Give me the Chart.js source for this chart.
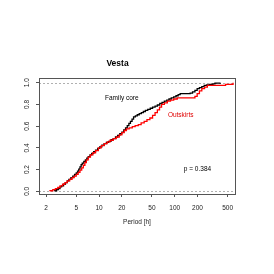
<!DOCTYPE html>
<html><head><meta charset="utf-8">
<script src="https://cdn.jsdelivr.net/npm/chart.js@4"></script>
<style>html,body{margin:0;padding:0;background:#fff}#wrap{width:274px;height:274px}</style>
</head><body><div id="wrap"><canvas id="c" width="274" height="274"></canvas></div>
<script>
// Family core (black) ECDF: period [h] and cumulative fraction
const coreP = [2.6,2.75,2.9,3.05,3.2,3.4,3.6,3.8,4.0,4.25,4.5,4.75,5.0,5.2,5.4,5.6,5.8,6.0,6.3,6.6,6.9,7.2,7.6,8.0,8.5,9.0,9.6,10.2,10.9,11.7,12.5,13.4,14.4,15.4,16.5,17.6,18.8,20.0,21.2,22.4,23.6,24.8,26.0,27.3,28.6,30.2,32.0,34.0,36.2,38.5,41.0,44.0,47.5,51.0,55.0,59.0,63.5,68.0,73.0,78.5,84.0,90.0,97,104,111,118,160,172,185,198,212,228,245,265,290,320,340,400];
const coreF = [0.005,0.015,0.025,0.04,0.05,0.065,0.08,0.095,0.11,0.125,0.14,0.155,0.17,0.185,0.205,0.225,0.245,0.26,0.275,0.29,0.305,0.32,0.335,0.35,0.365,0.38,0.395,0.41,0.425,0.44,0.45,0.46,0.475,0.485,0.5,0.515,0.53,0.545,0.565,0.585,0.605,0.625,0.645,0.665,0.685,0.695,0.705,0.715,0.725,0.735,0.745,0.755,0.765,0.775,0.785,0.795,0.81,0.82,0.83,0.84,0.85,0.86,0.87,0.88,0.89,0.9,0.905,0.915,0.93,0.945,0.955,0.965,0.975,0.98,0.985,0.99,0.997,1.0];
// Outskirts (red) ECDF
const outP = [2.25,2.45,2.65,2.85,3.05,3.3,3.55,3.8,4.1,4.4,4.7,5.0,5.3,5.6,5.9,6.2,6.5,6.8,7.2,7.7,8.3,9.0,9.8,10.7,11.7,12.8,14.0,15.4,16.9,18.5,20.0,21.5,23.0,25.0,27.5,30.0,33.0,36.0,39.5,43.0,47.0,51.0,55.0,59.0,63.0,67.0,73.0,80.0,88.0,97.0,108,185,198,212,228,248,270,470,590];
const outF = [0.005,0.015,0.025,0.035,0.05,0.065,0.08,0.095,0.11,0.125,0.14,0.155,0.175,0.195,0.215,0.24,0.265,0.29,0.315,0.335,0.355,0.375,0.4,0.42,0.44,0.455,0.47,0.485,0.5,0.52,0.54,0.56,0.575,0.585,0.595,0.605,0.615,0.63,0.645,0.66,0.675,0.7,0.725,0.75,0.775,0.8,0.815,0.83,0.84,0.85,0.86,0.875,0.9,0.925,0.945,0.96,0.975,0.985,1.0];

const xTicks = [2,5,10,20,50,100,200,500];
const yTicks = [0,0.2,0.4,0.6,0.8,1.0];
const refLines = [0,1];
const noteText = ['Family core','Outskirts','p = 0.384'];
const noteX = [20,120,200];
const noteY = [0.86,0.70,0.20];
const noteColor = ['#000000','#e00000','#000000'];

const FONT = '"Liberation Sans", Arial, Helvetica, sans-serif';

function series(p, f) {
  const pts = [{x: p[0], y: 0}];
  for (let i = 0; i < p.length; i++) pts.push({x: p[i], y: f[i]});
  return pts;
}

const extras = {
  id: 'extras',
  beforeDatasetsDraw(chart) {
    const {ctx, chartArea: a, scales: {y}} = chart;
    ctx.save();
    ctx.strokeStyle = '#b0b0b0';
    ctx.lineWidth = 1;
    ctx.setLineDash([2, 2]);
    refLines.forEach(v => {
      const py = Math.round(y.getPixelForValue(v)) + 0.5;
      ctx.beginPath(); ctx.moveTo(a.left, py); ctx.lineTo(a.right, py); ctx.stroke();
    });
    ctx.restore();
  },
  afterDatasetsDraw(chart) {
    const {ctx, chartArea: a, scales: {x, y}} = chart;
    ctx.save();
    ctx.font = '6.5px ' + FONT;
    ctx.textAlign = 'center';
    ctx.textBaseline = 'middle';
    noteText.forEach((t, i) => {
      ctx.fillStyle = noteColor[i];
      ctx.fillText(t, x.getPixelForValue(noteX[i]), y.getPixelForValue(noteY[i]));
    });
    ctx.strokeStyle = '#555';
    ctx.lineWidth = 1;
    ctx.strokeRect(Math.round(a.left) + 0.5, Math.round(a.top) + 0.5, Math.round(a.right - a.left), Math.round(a.bottom - a.top));
    ctx.restore();
  }
};

new Chart(document.getElementById('c'), {
  type: 'line',
  data: {
    datasets: [
      {label: 'Outskirts', data: series(outP, outF), borderColor: '#ff0000', borderWidth: 1.3, pointRadius: 0, stepped: 'before', fill: false},
      {label: 'Family core', data: series(coreP, coreF), borderColor: '#000000', borderWidth: 1.3, pointRadius: 0, stepped: 'before', fill: false}
    ]
  },
  options: {
    responsive: false,
    animation: false,
    devicePixelRatio: 1,
    layout: {padding: {left: 0, right: 39, top: 0, bottom: 47.4}},
    plugins: {
      legend: {display: false},
      tooltip: {enabled: false},
      title: {display: true, text: 'Vesta', color: '#000', font: {family: FONT, size: 8.5, weight: 'bold', lineHeight: 1.2}, padding: {top: 58.2, bottom: 10}}
    },
    scales: {
      x: {
        type: 'logarithmic', position: 'bottom', min: 1.61, max: 626,
        afterBuildTicks: s => { s.ticks = xTicks.map(v => ({value: v})); },
        afterFit: s => { s.height = 32.6; },
        ticks: {callback: v => String(v), color: '#222', font: {family: FONT, size: 6.5, lineHeight: 1.2}, padding: 7, maxRotation: 0, autoSkip: false},
        grid: {drawOnChartArea: false, drawTicks: true, tickLength: 3, color: '#555'},
        border: {display: false},
        title: {display: true, text: 'Period [h]', color: '#222', font: {family: FONT, size: 6.5, lineHeight: 1.2}, padding: {top: 0, bottom: 0}}
      },
      y: {
        type: 'linear', position: 'left', min: -0.025, max: 1.04,
        afterBuildTicks: s => { s.ticks = yTicks.map(v => ({value: v})); },
        afterFit: s => { s.width = 39; },
        ticks: {callback: v => Number(v).toFixed(1), color: '#222', font: {family: FONT, size: 6.5, lineHeight: 1.2}, padding: 4, minRotation: 90, maxRotation: 90, crossAlign: 'center', autoSkip: false},
        grid: {drawOnChartArea: false, drawTicks: true, tickLength: 3, color: '#555'},
        border: {display: false}
      }
    }
  },
  plugins: [extras]
});
</script>
</body></html>
